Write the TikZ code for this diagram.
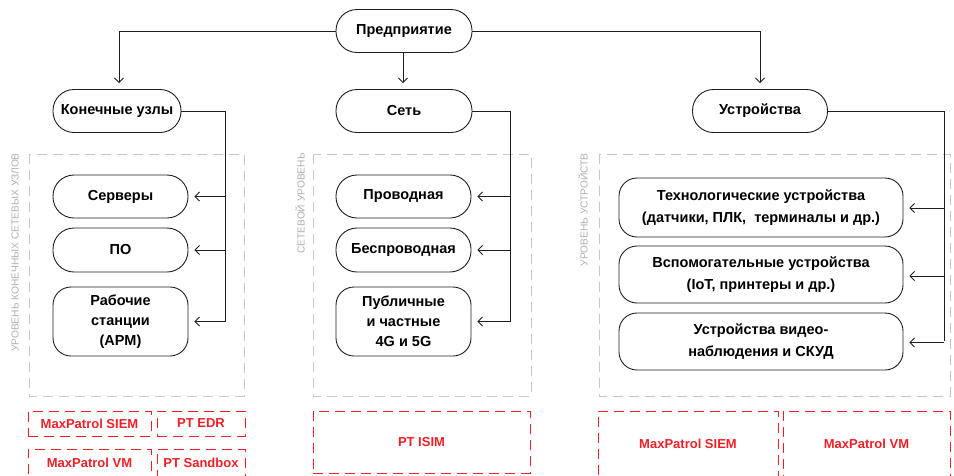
\documentclass[tikz,border=0pt]{standalone}
\usepackage{fontspec}
\setmainfont{Liberation Sans}
\usetikzlibrary{arrows.meta}
\definecolor{ptred}{RGB}{240,32,40}
\definecolor{lvlgray}{RGB}{200,200,200}
\definecolor{lbltext}{RGB}{175,175,175}
\definecolor{linec}{RGB}{30,30,30}
\tikzset{
  pill/.style={draw=linec, line width=0.9pt, rounded corners=21pt, align=center,
    minimum height=43pt, inner sep=0pt, font=\bfseries\fontsize{14.5}{20}\selectfont},
  tallbox/.style={pill, rounded corners=18pt},
  widebox/.style={tallbox, minimum width=284pt, minimum height=57pt,
    font=\bfseries\fontsize{14.5}{22}\selectfont},
  conn/.style={draw=linec, line width=1pt},
  arr/.style={conn, -{Straight Barb[length=4.5pt,width=9pt,line width=0.9pt]}, shorten >=6pt},
  lvlbox/.style={draw=lvlgray, line width=0.9pt, dash pattern=on 10pt off 6pt},
  prod/.style={draw=ptred, line width=0.9pt, dash pattern=on 10pt off 6pt, text=ptred,
    inner sep=0pt, font=\bfseries\fontsize{13}{15}\selectfont},
  lvllabel/.style={rotate=90, anchor=east, text=lbltext, inner sep=0pt,
    font=\fontsize{10.2}{12}\selectfont}
}
\begin{document}
\begin{tikzpicture}[x=1pt,y=-1pt]
\useasboundingbox (0,0) rectangle (954,475);
\clip (0,0) rectangle (954,475);

% level boxes
\draw[lvlbox] (29,154) rectangle (244,396);
\draw[lvlbox] (313,154) rectangle (531,396);
\draw[lvlbox] (599,154) rectangle (950,396);
\node[lvllabel] (lbl1) at (15,153) {УРОВЕНЬ КОНЕЧНЫХ СЕТЕВЫХ УЗЛОВ};
\node[lvllabel] (lbl2) at (300,153) {СЕТЕВОЙ УРОВЕНЬ};
\node[lvllabel] (lbl3) at (583,153) {УРОВЕНЬ УСТРОЙСТВ};

% top nodes
\node[pill, minimum width=136pt] (ent) at (404,31) {Предприятие};
\node[pill, minimum width=128pt] (ends) at (117,111) {Конечные узлы};
\node[pill, minimum width=136pt] (net) at (404,111) {Сеть};
\node[pill, minimum width=135pt] (dev) at (760,111) {Устройства};

% left column
\node[pill, minimum width=135pt] (srv) at (120.5,196.5) {Серверы};
\node[pill, minimum width=135pt, minimum height=44pt] (po) at (120.5,250) {ПО};
\node[tallbox, minimum width=135pt, minimum height=69pt] (arm) at (120.5,321.5) {Рабочие\\станции\\(АРМ)};

% middle column
\node[pill, minimum width=135pt] (wired) at (403.5,196.5) {Проводная};
\node[pill, minimum width=135pt, minimum height=44pt] (wless) at (403.5,250) {Беспроводная};
\node[tallbox, minimum width=135pt, minimum height=69pt] (mob) at (403.5,321.5) {Публичные\\и частные\\4G и 5G};

% right column
\node[widebox, minimum height=59pt] (tech) at (761,207.5) {Технологические устройства\\(датчики, ПЛК,~ терминалы и др.)};
\node[widebox] (aux) at (761,274.5) {Вспомогательные устройства\\(IoT, принтеры и др.)};
\node[widebox] (video) at (761,341.5) {Устройства видео-\\наблюдения и СКУД};

% connectors from top
\draw[arr] (ent.west) -| ([xshift=2pt]ends.north);
\draw[arr] ([xshift=-1pt]ent.south) -- ([xshift=-1pt]net.north);
\draw[arr] (ent.east) -| (dev.north);

% buses
\coordinate (lbus) at (225,322);
\coordinate (mbus) at (510,322);
\coordinate (rbus) at (944,341);
\draw[conn] (ends.east) -| (lbus);
\draw[conn] (net.east) -| (mbus);
\draw[conn] (dev.east) -| (rbus);

\draw[arr] (srv.east -| lbus) -- (srv.east);
\draw[arr] (po.east -| lbus) -- (po.east);
\draw[arr] (arm.east -| lbus) -- (arm.east);
\draw[arr] (wired.east -| mbus) -- (wired.east);
\draw[arr] (wless.east -| mbus) -- (wless.east);
\draw[arr] (mob.east -| mbus) -- (mob.east);
\draw[arr] ([yshift=-0.5pt]tech.east -| rbus) -- ([yshift=-0.5pt]tech.east);
\draw[arr] ([yshift=-1.5pt]aux.east -| rbus) -- ([yshift=-1.5pt]aux.east);
\draw[arr] ([yshift=-1pt]video.east -| rbus) -- ([yshift=-1pt]video.east);

% product boxes
\node[prod, minimum width=123pt, minimum height=25pt] (siem1) at (89.5,423.5) {MaxPatrol SIEM};
\node[prod, minimum width=88pt, minimum height=25pt] (edr) at (201,423.5) {PT EDR};
\node[prod, minimum width=123pt, minimum height=27pt] (vm1) at (89.5,462.5) {MaxPatrol VM};
\node[prod, minimum width=88pt, minimum height=27pt] (sbx) at (201,462.5) {PT Sandbox};
\node[prod, minimum width=217pt, minimum height=62pt] (isim) at (421.5,442) {PT ISIM};
\node[prod, minimum width=180pt, minimum height=66pt] (siem2) at (688,444) {MaxPatrol SIEM};
\node[prod, minimum width=167pt, minimum height=66pt] (vm2) at (866.5,444) {MaxPatrol VM};
\end{tikzpicture}
\end{document}
